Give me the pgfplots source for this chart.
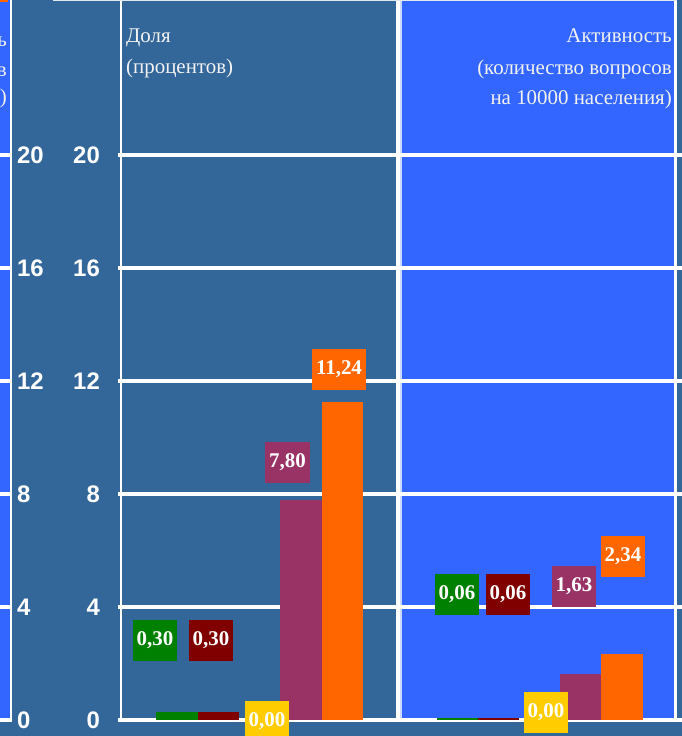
\documentclass[border=0pt]{standalone}
\usepackage{pgfplots}
\pgfplotsset{compat=1.18}
\usepackage{fontspec}
\setmainfont{Liberation Serif}
\newfontfamily\sansb{Liberation Sans}
\definecolor{bgdark}{HTML}{336699}
\definecolor{pblue}{HTML}{3366FF}
\definecolor{cgreen}{HTML}{008000}
\definecolor{cred}{HTML}{800000}
\definecolor{cyel}{HTML}{FFCC00}
\definecolor{cpur}{HTML}{993366}
\definecolor{cora}{HTML}{FF6600}
\definecolor{ttl}{HTML}{F2F2F2}
\tikzset{
  lbl/.style={fill=#1, text=white, font=\bfseries\fontsize{21}{21}\selectfont,
    minimum width=44bp, minimum height=41bp, inner xsep=4bp, inner ysep=0pt},
}
\pgfplotsset{
  panel/.style={
    y=28.25bp, ymin=0, ymax=25.49,
    axis line style={draw=none}, major tick length=0pt,
    xtick=\empty, ytick={0,4,...,20},
    grid=major, major grid style={white, line width=4bp},
    ybar, bar shift=0pt, bar width=1, clip=false,
    /pgf/number format/assume math mode=true,
    yticklabel style={text=white, inner sep=0pt, font=\sansb\bfseries\fontsize{24}{24}\selectfont},
  },
}
\begin{document}
\begin{tikzpicture}[x=1bp,y=1bp]
\path[use as bounding box, clip] (0,0) rectangle (682,736);
\fill[bgdark] (0,0) rectangle (682,736);
% left partial panel
\fill[pblue] (0,16) rectangle (10,736);
\fill[cora] (0,734) rectangle (8,736);
\fill[white] (10,14) rectangle (12,736);
% right panel
\fill[pblue] (402,16) rectangle (675,736);
% borders
\fill[white] (119.5,16) rectangle (121.5,736);
\fill[white] (396,16) rectangle (399.5,736);
\fill[white!75!pblue] (399.5,16) rectangle (402,736);
\fill[white] (674,16) rectangle (676.5,736);
\fill[white!85!bgdark] (53,735) rectangle (676.5,736);
% titles
\node[anchor=base east, text=ttl, inner sep=0pt, font=\fontsize{21}{21}\selectfont] at (7,689) {ь};
\node[anchor=base east, text=ttl, inner sep=0pt, font=\fontsize{21}{21}\selectfont] at (7,659) {в};
\node[anchor=base east, text=ttl, inner sep=0pt, font=\fontsize{21}{21}\selectfont] at (7,632) {)};
\node[anchor=base west, text=ttl, inner sep=0pt, font=\fontsize{21}{21}\selectfont] at (126,693) {Доля};
\node[anchor=base west, text=ttl, inner sep=0pt, font=\fontsize{21}{21}\selectfont] at (126,662) {(процентов)};
\node[anchor=base east, text=ttl, inner sep=0pt, font=\fontsize{21}{21}\selectfont] at (672,693) {Активность};
\node[anchor=base east, text=ttl, inner sep=0pt, font=\fontsize{21}{21}\selectfont] at (672,661) {(количество вопросов};
\node[anchor=base east, text=ttl, inner sep=0pt, font=\fontsize{21}{21}\selectfont] at (672,631) {на 10000 населения)};

% left partial axis (labels on right)
\begin{axis}[panel, at={(12bp,16bp)}, anchor=south east, x=50bp, xmin=0, xmax=1,
  yticklabel pos=right, yticklabel style={anchor=west, xshift=5bp}]
\addplot[draw=none] coordinates {(0.5,0)};
\end{axis}

% panel 1: Доля
\begin{axis}[panel, at={(118bp,16bp)}, anchor=south west, x=41.6bp, xmin=-1.418, xmax=5.409,
  yticklabel style={anchor=east, xshift=-18bp}]
\addplot[fill=cgreen, draw=none] coordinates {(0,0.30)};
\addplot[fill=cred, draw=none] coordinates {(1,0.30)};
\addplot[fill=cyel, draw=none] coordinates {(2,0.00)};
\addplot[fill=cpur, draw=none] coordinates {(2.98,7.80)};
\addplot[fill=cora, draw=none] coordinates {(3.98,11.24)};
\node[lbl=cgreen] at (axis cs:-0.529,2.81) {0,30};
\node[lbl=cred] at (axis cs:0.817,2.81) {0,30};
\node[lbl=cyel] at (axis cs:2.163,-0.05) {0,00};
\node[lbl=cpur] at (axis cs:2.656,9.12) {7,80};
\node[lbl=cora] at (axis cs:3.894,12.42) {11,24};
\end{axis}

% panel 2: Активность
\begin{axis}[panel, at={(402bp,16bp)}, anchor=south west, x=41.3bp, xmin=-1.344, xmax=5.436,
  yticklabels=\empty]
\addplot[fill=cgreen, draw=none] coordinates {(0,0.06)};
\addplot[fill=cred, draw=none] coordinates {(1,0.06)};
\addplot[fill=cyel, draw=none] coordinates {(2,0.00)};
\addplot[fill=cpur, draw=none] coordinates {(2.98,1.63)};
\addplot[fill=cora, draw=none] coordinates {(3.98,2.34)};
\node[lbl=cgreen] at (axis cs:-0.012,4.44) {0,06};
\node[lbl=cred] at (axis cs:1.223,4.44) {0,06};
\node[lbl=cyel] at (axis cs:2.143,0.27) {0,00};
\node[lbl=cpur] at (axis cs:2.821,4.73) {1,63};
\node[lbl=cora] at (axis cs:4.007,5.79) {2,34};
\end{axis}
\end{tikzpicture}
\end{document}
